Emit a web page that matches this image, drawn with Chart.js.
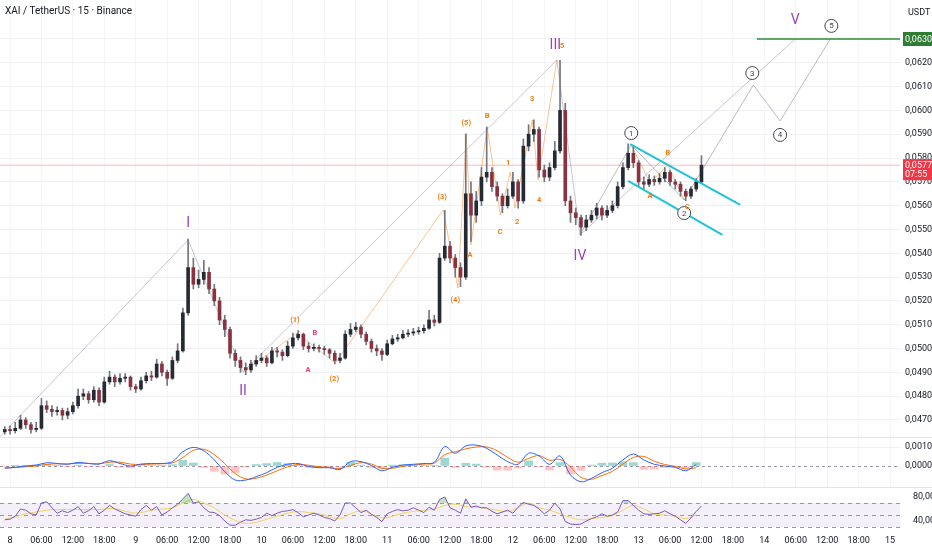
<!DOCTYPE html>
<html>
<head>
<meta charset="utf-8">
<title>XAI / TetherUS · 15 · Binance</title>
<script src="https://cdn.jsdelivr.net/npm/chart.js@4.4.1/dist/chart.umd.min.js"></script>
<style>
  html, body { margin: 0; padding: 0; background: #fff; }
  #wrap { position: relative; width: 932px; height: 550px; overflow: hidden; }
  canvas { position: absolute; left: 0; }
  #cMain { top: 0; }
  #cMacd { top: 438px; }
  #cRsi { top: 488px; }
  .sep { position: absolute; left: 0; width: 932px; height: 1px; background: #e0e3eb; z-index: 2; }
  .txt { position: absolute; color: #131722; font-family: "Liberation Sans Narrow", Roboto, sans-serif; z-index: 3; white-space: nowrap; }
</style>
</head>
<body>
<div id="wrap">
  <canvas id="cMain" width="932" height="437"></canvas>
  <canvas id="cMacd" width="932" height="49"></canvas>
  <canvas id="cRsi" width="932" height="62"></canvas>
  <div class="sep" style="top:437px"></div>
  <div class="sep" style="top:487px"></div>
  <div class="txt" style="left:5px;top:5px;font-size:10px">XAI / TetherUS · 15 · Binance</div>
  <div class="txt" style="left:908px;top:7px;font-size:9px">USDT</div>
</div>
<script>
// ---- données (bougies horaires, à partir de 8 00:00 = heure 0) ----
const firstHour = -1;

const opens = [
  0.04650,0.04660,0.04655,0.04665,0.04700,0.04680,0.04660,0.04665,0.04760,0.04745,
  0.04735,0.04740,0.04720,0.04735,0.04760,0.04800,0.04810,0.04785,0.04825,0.04775,
  0.04860,0.04880,0.04860,0.04875,0.04880,0.04840,0.04830,0.04865,0.04885,0.04880,
  0.04935,0.04900,0.04875,0.04950,0.04990,0.05150,0.05340,0.05270,0.05290,0.05320,
  0.05250,0.05200,0.05120,0.05080,0.04980,0.04950,0.04920,0.04910,0.04935,0.04950,
  0.04960,0.04940,0.04990,0.04985,0.04970,0.05010,0.05045,0.05060,0.05010,0.05000,
  0.05005,0.05000,0.04995,0.04980,0.04950,0.04960,0.05060,0.05080,0.05090,0.05060,
  0.05030,0.05000,0.04990,0.04975,0.05020,0.05040,0.05045,0.05060,0.05065,0.05070,
  0.05075,0.05085,0.05120,0.05110,0.05380,0.05430,0.05380,0.05340,0.05300,0.05650,
  0.05560,0.05620,0.05720,0.05740,0.05680,0.05640,0.05600,0.05640,0.05700,0.05620,
  0.05850,0.05900,0.05920,0.05750,0.05720,0.05760,0.05830,0.06000,0.05620,0.05570,
  0.05550,0.05510,0.05540,0.05560,0.05590,0.05560,0.05580,0.05600,0.05680,0.05760,
  0.05820,0.05780,0.05700,0.05690,0.05710,0.05700,0.05715,0.05740,0.05700,0.05690,
  0.05660,0.05640,0.05670,0.05700
];
const highs = [
  0.04672,0.04675,0.04690,0.04720,0.04710,0.04690,0.04690,0.04790,0.04780,0.04760,
  0.04755,0.04750,0.04750,0.04775,0.04830,0.04830,0.04820,0.04840,0.04835,0.04880,
  0.04905,0.04890,0.04895,0.04895,0.04885,0.04850,0.04880,0.04900,0.04905,0.04955,
  0.04945,0.04910,0.04965,0.05020,0.05170,0.05460,0.05380,0.05330,0.05370,0.05340,
  0.05270,0.05215,0.05140,0.05090,0.04995,0.04965,0.04940,0.04950,0.04970,0.04980,
  0.04970,0.05005,0.05005,0.04995,0.05030,0.05065,0.05075,0.05065,0.05025,0.05020,
  0.05015,0.05010,0.05000,0.04990,0.04980,0.05075,0.05105,0.05110,0.05100,0.05070,
  0.05040,0.05015,0.05000,0.05035,0.05055,0.05060,0.05075,0.05080,0.05085,0.05090,
  0.05100,0.05160,0.05140,0.05400,0.05580,0.05450,0.05395,0.05360,0.05900,0.05700,
  0.05660,0.05760,0.05930,0.05760,0.05700,0.05650,0.05670,0.05740,0.05710,0.05880,
  0.05940,0.05960,0.05930,0.05770,0.05780,0.05870,0.06210,0.06030,0.05640,0.05590,
  0.05560,0.05560,0.05580,0.05610,0.05600,0.05600,0.05620,0.05700,0.05780,0.05860,
  0.05850,0.05790,0.05720,0.05730,0.05725,0.05735,0.05760,0.05750,0.05710,0.05700,
  0.05670,0.05680,0.05715,0.05810
];
const lows = [
  0.04640,0.04640,0.04645,0.04660,0.04665,0.04645,0.04650,0.04660,0.04730,0.04715,
  0.04720,0.04700,0.04705,0.04725,0.04750,0.04785,0.04770,0.04775,0.04760,0.04770,
  0.04850,0.04840,0.04850,0.04860,0.04825,0.04815,0.04825,0.04855,0.04865,0.04875,
  0.04885,0.04845,0.04870,0.04940,0.04985,0.05140,0.05250,0.05255,0.05270,0.05230,
  0.05180,0.05100,0.05050,0.04960,0.04925,0.04900,0.04890,0.04900,0.04925,0.04940,
  0.04925,0.04935,0.04965,0.04950,0.04965,0.05000,0.05035,0.04995,0.04985,0.04990,
  0.04985,0.04975,0.04960,0.04935,0.04940,0.04955,0.05050,0.05070,0.05045,0.05015,
  0.04985,0.04970,0.04950,0.04970,0.05015,0.05030,0.05040,0.05050,0.05055,0.05060,
  0.05065,0.05080,0.05095,0.05105,0.05370,0.05360,0.05300,0.05260,0.05290,0.05450,
  0.05530,0.05600,0.05700,0.05660,0.05620,0.05570,0.05590,0.05630,0.05590,0.05610,
  0.05830,0.05870,0.05720,0.05700,0.05705,0.05750,0.05820,0.05600,0.05530,0.05520,
  0.05475,0.05495,0.05530,0.05545,0.05540,0.05550,0.05570,0.05590,0.05670,0.05750,
  0.05760,0.05680,0.05670,0.05680,0.05685,0.05690,0.05700,0.05685,0.05670,0.05640,
  0.05620,0.05630,0.05660,0.05695
];
const closes = [
  0.04660,0.04655,0.04665,0.04700,0.04680,0.04660,0.04665,0.04760,0.04745,0.04735,
  0.04740,0.04720,0.04735,0.04760,0.04800,0.04810,0.04785,0.04825,0.04775,0.04860,
  0.04880,0.04860,0.04875,0.04880,0.04840,0.04830,0.04865,0.04885,0.04880,0.04935,
  0.04900,0.04875,0.04950,0.04990,0.05150,0.05340,0.05270,0.05290,0.05320,0.05250,
  0.05200,0.05120,0.05080,0.04980,0.04950,0.04920,0.04910,0.04935,0.04950,0.04960,
  0.04940,0.04990,0.04985,0.04970,0.05010,0.05045,0.05060,0.05010,0.05000,0.05005,
  0.05000,0.04995,0.04980,0.04950,0.04960,0.05060,0.05080,0.05090,0.05060,0.05030,
  0.05000,0.04990,0.04975,0.05020,0.05040,0.05045,0.05060,0.05065,0.05070,0.05075,
  0.05085,0.05120,0.05110,0.05380,0.05430,0.05380,0.05340,0.05300,0.05650,0.05560,
  0.05620,0.05720,0.05740,0.05680,0.05640,0.05600,0.05640,0.05700,0.05620,0.05850,
  0.05900,0.05920,0.05750,0.05720,0.05760,0.05830,0.06000,0.05620,0.05570,0.05550,
  0.05510,0.05540,0.05560,0.05590,0.05560,0.05580,0.05600,0.05680,0.05760,0.05820,
  0.05780,0.05700,0.05690,0.05710,0.05700,0.05715,0.05740,0.05700,0.05690,0.05660,
  0.05640,0.05670,0.05700,0.05770
];

// RSI (horaire)
const rsi = [
  42,43,48,60,58,52,50,70,72,62,
  53,57,54,58,64,53,57,64,52,58,
  66,60,56,52,50,48,59,66,58,64,
  50,55,62,68,77,86,70,72,62,55,
  54,49,40,33,33,38,42,41,43,46,
  53,49,53,56,57,59,54,47,50,53,
  50,46,44,40,50,70,70,62,54,58,
  51,46,39,52,56,59,57,58,62,58,
  54,63,58,76,80,62,58,53,77,63,
  65,62,62,56,52,55,58,53,63,71,
  68,66,60,52,58,70,60,39,35,34,
  35,40,44,47,52,48,50,55,74,74,
  66,58,52,51,52,53,57,52,48,42,
  36,45,56,65
];

// indicateurs lissés, un point toutes les 2 heures
const indStep = 2;
const macdLine = [
  -0.00012,-0.00007,0.00000,0.00005,0.00017,0.00013,0.00009,0.00019,0.00013,0.00010,
  0.00028,0.00013,0.00000,0.00010,0.00013,0.00013,0.00023,0.00075,0.00098,0.00080,
  0.00032,-0.00030,-0.00074,-0.00074,-0.00056,-0.00035,-0.00007,0.00009,0.00013,-0.00003,
  -0.00009,-0.00009,-0.00018,0.00023,0.00023,0.00002,-0.00025,-0.00007,0.00005,0.00009,
  0.00013,0.00019,0.00102,0.00067,0.00105,0.00110,0.00093,0.00058,0.00023,0.00009,
  0.00067,0.00053,0.00009,0.00053,-0.00047,-0.00083,-0.00065,-0.00035,-0.00012,0.00032,
  0.00063,0.00032,0.00009,0.00000,-0.00007,-0.00025,0.00008
];
const signalLine = [
  -0.00010,-0.00008,-0.00004,0.00000,0.00008,0.00012,0.00011,0.00014,0.00014,0.00012,
  0.00020,0.00020,0.00010,0.00008,0.00010,0.00012,0.00016,0.00045,0.00082,0.00088,
  0.00060,0.00012,-0.00040,-0.00068,-0.00064,-0.00048,-0.00025,-0.00004,0.00008,0.00004,
  -0.00004,-0.00008,-0.00013,0.00003,0.00018,0.00010,-0.00012,-0.00012,-0.00002,0.00005,
  0.00010,0.00015,0.00060,0.00075,0.00090,0.00100,0.00100,0.00080,0.00045,0.00020,
  0.00040,0.00055,0.00030,0.00035,-0.00005,-0.00060,-0.00070,-0.00050,-0.00028,0.00010,
  0.00045,0.00050,0.00025,0.00008,-0.00002,-0.00015,-0.00010
];
const macdHist = [
  -0.00002,0.00001,0.00004,0.00005,0.00009,0.00001,-0.00002,0.00005,-0.00001,-0.00002,
  0.00008,-0.00007,-0.00010,0.00002,0.00003,0.00001,0.00007,0.00030,0.00016,-0.00008,
  -0.00028,-0.00042,-0.00034,-0.00006,0.00008,0.00013,0.00018,0.00013,0.00005,-0.00007,
  -0.00005,-0.00001,-0.00005,0.00020,0.00005,-0.00008,-0.00013,0.00005,0.00007,0.00004,
  0.00003,0.00004,0.00042,-0.00008,0.00015,0.00010,-0.00007,-0.00022,-0.00022,-0.00011,
  0.00027,-0.00002,-0.00021,0.00018,-0.00042,-0.00023,0.00005,0.00015,0.00016,0.00022,
  0.00018,-0.00018,-0.00016,-0.00008,-0.00005,-0.00010,0.00018
];
const rsiMA = [
  43,47,52,55,58,59,59,59,59,59,
  61,59,54,54,58,60,62,70,76,70,
  62,50,41,36,38,43,48,53,56,54,
  52,47,44,52,57,52,45,48,53,56,
  58,60,66,68,64,63,61,58,56,62,
  70,62,58,52,46,42,44,46,49,58,
  66,60,52,50,48,44,50
];

// axes
const priceTicks = [0.0470,0.0480,0.0490,0.0500,0.0510,0.0520,0.0530,0.0540,0.0550,
                    0.0560,0.0570,0.0580,0.0590,0.0600,0.0610,0.0620,0.0630];
const macdTicks = [0, 0.0010];
const rsiTicks = [40, 80];
const rsiLevels = [70, 50, 30];
const timeLabels = ['8','06:00','12:00','18:00','9','06:00','12:00','18:00','10','06:00','12:00','18:00',
                    '11','06:00','12:00','18:00','12','06:00','12:00','18:00','13','06:00','12:00','18:00',
                    '14','06:00','12:00','18:00','15'];
const timeLabelStep = 6; // heures
const countdown = '07:55';
const targetPrice = 0.0630;

// tracés d'Elliott (heure, prix)
const wavePrimary = [[-1.9,0.04630],[34.0,0.05456],[44.5,0.04901],[104.4,0.06212],[108.8,0.05477]];
const waveIVtoV = [[108.8,0.05477],[149.9,0.06300]];
const waveMinor = [[108.8,0.05477],[118.6,0.05855],[128.7,0.05624],[141.9,0.06107],[147.0,0.05956],[156.6,0.06300]];
const waveSub = [[44.5,0.04901],[54.8,0.05065],[62.1,0.04939],[82.7,0.05582],[85.5,0.05254],[87.1,0.05905],
                 [88.0,0.05435],[91.1,0.05930],[93.6,0.05561],[95.5,0.05741],[96.4,0.05590],[99.7,0.05960],
                 [100.8,0.05708],[104.4,0.06212]];
const waveABC = [[118.6,0.05855],[122.2,0.05695],[125.6,0.05771],[128.7,0.05624]];
const channelTop = [[118.4,0.05859],[139.4,0.05603]];
const channelBottom = [[118.0,0.05704],[136.0,0.05477]];
const targetFrom = 142.6;

const waveLabels = [
  ['I',34.0,0.05527,'roman'],['II',44.5,0.04822,'roman'],['III',104.1,0.06275,'roman'],
  ['IV',108.8,0.05389,'roman'],['V',149.9,0.06380,'roman'],
  ['1',118.6,0.05905,'circle'],['2',128.7,0.05569,'circle'],['3',141.7,0.06157,'circle'],
  ['4',147.0,0.05897,'circle'],['5',156.8,0.06355,'circle'],
  ['(1)',54.4,0.05120,'orange'],['(2)',61.9,0.04872,'orange'],['(3)',82.5,0.05636,'orange'],
  ['(4)',85.0,0.05204,'orange'],['(5)',87.1,0.05947,'orange'],
  ['A',87.8,0.05393,'orange'],['B',91.1,0.05977,'orange'],['C',93.6,0.05489,'orange'],
  ['1',95.1,0.05779,'orange'],['2',96.8,0.05531,'orange'],['3',99.7,0.06048,'orange'],
  ['4',101.0,0.05624,'orange'],['5',105.4,0.06271,'orange'],
  ['A',122.2,0.05641,'orange'],['B',125.6,0.05821,'orange'],['C',129.3,0.05594,'orange'],
  ['A',56.9,0.04910,'pink'],['B',58.2,0.05065,'pink']
];

// ---- mise en forme ----
const FONT = '"Liberation Sans Narrow", Roboto, "DejaVu Sans", sans-serif';
Chart.defaults.font.family = FONT;
Chart.defaults.animation = false;

const xMin = -1.91, xMax = 169.9;
const fmt = (v, d) => v.toFixed(d).replace('.', ',');
const lastClose = closes[closes.length - 1];
const tickHours = timeLabels.map((_, i) => i * timeLabelStep);
const pts = arr => arr.map(([x, y]) => ({ x, y }));
const indX = i => firstHour + i * indStep;

const upColor = '#262a33', downColor = '#8a3242', wickColor = '#73767f';
const labelStyles = {
  roman:  { color: '#9c3fb8', font: '14px Roboto, sans-serif' },
  circle: { color: '#434651', font: '8px ' + FONT },
  orange: { color: '#ef7d12', font: 'bold 7.5px ' + FONT },
  pink:   { color: '#e0407a', font: 'bold 7.5px ' + FONT }
};

const lineDs = (data, color, width, order) => ({
  type: 'line', data: pts(data), borderColor: color, borderWidth: width,
  pointRadius: 0, fill: false, tension: 0, order
});

// pas de marge automatique autour des axes : les panneaux restent calés au pixel
const noPad = s => { s.paddingTop = 0; s.paddingBottom = 0; s.paddingLeft = 0; s.paddingRight = 0; };

const xCommon = {
  type: 'linear', min: xMin, max: xMax, offset: false,
  afterBuildTicks: s => { s.ticks = tickHours.map(v => ({ value: v })); },
  border: { display: false }
};
const rightAxis = (ticks, min, max, dec, grid) => ({
  position: 'right', min, max,
  afterBuildTicks: s => { s.ticks = ticks.map(v => ({ value: v })); },
  afterFit: s => { s.width = 32; noPad(s); },
  ticks: { callback: v => fmt(v, dec), font: { size: 9 }, color: '#131722', padding: 5 },
  grid: grid,
  border: { display: false }
});

// ---- graphique principal ----
const labelPlugin = {
  id: 'waveLabels',
  afterDatasetsDraw(chart) {
    const { ctx, scales: { x, y } } = chart;
    ctx.save();
    ctx.textAlign = 'center';
    ctx.textBaseline = 'middle';
    waveLabels.forEach(([text, h, p, kind]) => {
      const st = labelStyles[kind];
      const px = x.getPixelForValue(h), py = y.getPixelForValue(p);
      if (kind === 'circle') {
        ctx.beginPath();
        ctx.arc(px, py, 6.5, 0, Math.PI * 2);
        ctx.fillStyle = '#fff';
        ctx.fill();
        ctx.strokeStyle = st.color;
        ctx.lineWidth = 1;
        ctx.stroke();
      }
      ctx.fillStyle = st.color;
      ctx.font = st.font;
      ctx.fillText(text, px, py + 0.5);
    });
    ctx.restore();
  },
  afterDraw(chart) {
    const { ctx, chartArea, scales: { y } } = chart;
    const left = chartArea.right + 3;
    ctx.save();
    ctx.textAlign = 'left';
    ctx.textBaseline = 'middle';
    ctx.font = '9px ' + FONT;
    const yt = y.getPixelForValue(targetPrice);
    ctx.fillStyle = '#2e7d32';
    ctx.fillRect(left, yt - 7, 29, 14);
    ctx.fillStyle = '#fff';
    ctx.fillText(fmt(targetPrice, 4), left + 2, yt + 0.5);
    const yl = y.getPixelForValue(lastClose);
    ctx.fillStyle = '#f23645';
    ctx.fillRect(left, yl - 6, 29, 21);
    ctx.fillStyle = '#fff';
    ctx.fillText(fmt(lastClose, 4), left + 2, yl + 0.5);
    ctx.fillText(countdown, left + 2, yl + 10);
    ctx.restore();
  }
};

const candleColors = closes.map((c, i) => c >= opens[i] ? upColor : downColor);

new Chart(document.getElementById('cMain'), {
  type: 'bar',
  data: {
    datasets: [
      lineDs(wavePrimary, 'rgba(130,133,142,0.45)', 1, 5),
      lineDs(waveIVtoV, 'rgba(130,133,142,0.45)', 1, 5),
      lineDs(waveMinor, 'rgba(130,133,142,0.55)', 1, 5),
      lineDs(waveSub, 'rgba(239,125,18,0.45)', 1, 5),
      lineDs(waveABC, 'rgba(239,125,18,0.45)', 1, 5),
      lineDs([[xMin, lastClose], [xMax, lastClose]], 'rgba(242,54,69,0.35)', 1, 6),
      {
        type: 'bar', data: highs.map((h, i) => ({ x: firstHour + i, y: [lows[i], h] })),
        backgroundColor: wickColor, barThickness: 1, grouped: false, order: 4
      },
      {
        type: 'bar', data: opens.map((o, i) => ({ x: firstHour + i, y: [o, closes[i]] })),
        backgroundColor: candleColors, barThickness: 3, minBarLength: 1, grouped: false, order: 3
      },
      lineDs(channelTop, '#1fc3d8', 2, 1),
      lineDs(channelBottom, '#1fc3d8', 2, 1),
      lineDs([[targetFrom, targetPrice], [xMax, targetPrice]], '#2e8b3a', 1.5, 1)
    ]
  },
  options: {
    responsive: false,
    layout: { padding: 0 },
    plugins: { legend: { display: false }, tooltip: { enabled: false } },
    scales: {
      x: Object.assign({}, xCommon, {
        ticks: { display: false },
        grid: { color: '#f5f6f9', drawTicks: false, offset: false },
        afterFit: s => { s.height = 0; noPad(s); }
      }),
      y: rightAxis(priceTicks, 0.0630 - 398 / 23810, 0.0630 + 39 / 23810, 4,
                   { color: '#eef0f4', drawTicks: false })
    }
  },
  plugins: [labelPlugin]
});

// ---- MACD ----
const zeroLinePlugin = {
  id: 'zeroLine',
  beforeDatasetsDraw(chart) {
    const { ctx, chartArea, scales: { y } } = chart;
    const yz = Math.round(y.getPixelForValue(0)) + 0.5;
    ctx.save();
    ctx.strokeStyle = '#9598a1';
    ctx.setLineDash([3, 3]);
    ctx.lineWidth = 1;
    ctx.beginPath();
    ctx.moveTo(chartArea.left, yz);
    ctx.lineTo(chartArea.right, yz);
    ctx.stroke();
    ctx.restore();
  }
};

new Chart(document.getElementById('cMacd'), {
  type: 'bar',
  data: {
    datasets: [
      {
        type: 'bar', data: macdHist.map((v, i) => ({ x: indX(i), y: v })),
        backgroundColor: macdHist.map(v => v >= 0 ? 'rgba(38,166,154,0.45)' : 'rgba(255,82,82,0.35)'),
        barThickness: 8, order: 3
      },
      { type: 'line', data: macdLine.map((v, i) => ({ x: indX(i), y: v })), borderColor: '#2962ff',
        borderWidth: 1, pointRadius: 0, tension: 0.35, order: 1 },
      { type: 'line', data: signalLine.map((v, i) => ({ x: indX(i), y: v })), borderColor: '#ff6d00',
        borderWidth: 1, pointRadius: 0, tension: 0.35, order: 2 }
    ]
  },
  options: {
    responsive: false,
    layout: { padding: 0 },
    plugins: { legend: { display: false }, tooltip: { enabled: false } },
    scales: {
      x: Object.assign({}, xCommon, {
        ticks: { display: false },
        grid: { color: '#f5f6f9', drawTicks: false, offset: false },
        afterFit: s => { s.height = 0; noPad(s); }
      }),
      y: rightAxis(macdTicks, -21 / 19000, 28 / 19000, 4,
                   { color: c => c.tick && c.tick.value === 0 ? 'rgba(0,0,0,0)' : '#eef0f4', drawTicks: false })
    }
  },
  plugins: [zeroLinePlugin]
});

// ---- RSI ----
const rsiBandPlugin = {
  id: 'rsiBand',
  beforeDatasetsDraw(chart) {
    const { ctx, chartArea, scales: { y } } = chart;
    const yTop = y.getPixelForValue(rsiLevels[0]), yBot = y.getPixelForValue(rsiLevels[2]);
    ctx.save();
    ctx.fillStyle = 'rgba(126,87,194,0.09)';
    ctx.fillRect(chartArea.left, yTop, chartArea.right - chartArea.left, yBot - yTop);
    ctx.strokeStyle = '#9598a1';
    ctx.setLineDash([4, 4]);
    ctx.lineWidth = 1;
    rsiLevels.forEach(l => {
      const yy = Math.round(y.getPixelForValue(l)) + 0.5;
      ctx.beginPath();
      ctx.moveTo(chartArea.left, yy);
      ctx.lineTo(chartArea.right, yy);
      ctx.stroke();
    });
    ctx.restore();
  }
};

new Chart(document.getElementById('cRsi'), {
  type: 'line',
  data: {
    datasets: [
      { data: rsi.map((v, i) => ({ x: firstHour + i, y: v })), borderColor: '#7e57c2', borderWidth: 1,
        pointRadius: 0, tension: 0,
        fill: { target: { value: 70 }, above: 'rgba(76,175,80,0.35)', below: 'rgba(0,0,0,0)' }, order: 1 },
      { data: rsiMA.map((v, i) => ({ x: indX(i), y: v })), borderColor: '#f3d45a', borderWidth: 1,
        pointRadius: 0, tension: 0.35, fill: false, order: 2 }
    ]
  },
  options: {
    responsive: false,
    layout: { padding: 0 },
    plugins: { legend: { display: false }, tooltip: { enabled: false } },
    scales: {
      x: Object.assign({}, xCommon, {
        ticks: { callback: (v, i) => timeLabels[i], autoSkip: false, maxRotation: 0,
                 font: { size: 9 }, color: '#131722', padding: 3 },
        grid: { display: false, drawTicks: false },
        afterFit: s => { s.height = 18; noPad(s); }
      }),
      y: rightAxis(rsiTicks, 30 - 5 / 0.6, 70 + 15 / 0.6, 2, { display: false })
    }
  },
  plugins: [rsiBandPlugin]
});
</script>
</body>
</html>
